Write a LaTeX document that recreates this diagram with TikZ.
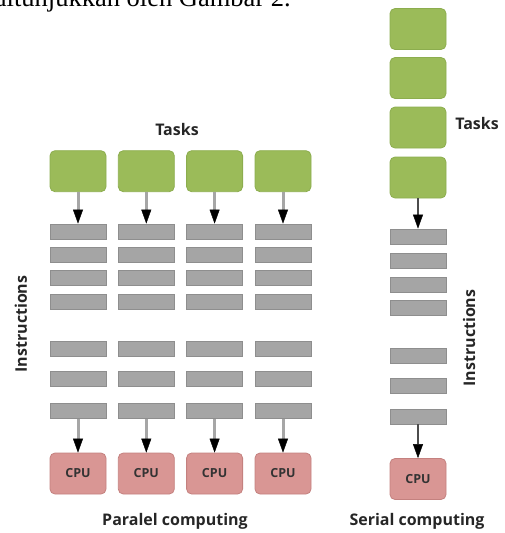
\documentclass[tikz,border=0pt]{standalone}
\usepackage{fontspec}
\setmainfont{Open Sans}
\newfontfamily\bodyserif{Liberation Serif}
\usetikzlibrary{arrows.meta}

\definecolor{taskfill}{HTML}{9BBB59}
\definecolor{taskedge}{HTML}{8CAD4E}
\definecolor{instrfill}{HTML}{A5A5A5}
\definecolor{instredge}{HTML}{8E8E8E}
\definecolor{cpufill}{HTML}{D99694}
\definecolor{cpuedge}{HTML}{C4817F}

\begin{document}
\begin{tikzpicture}[
    x=1pt, y=-1pt,          % pixel grid, y runs down
    >={Triangle[length=14pt, width=10pt, line width=0.4pt, black]},
    task/.style={draw=taskedge, fill=taskfill, rounded corners=5pt, line width=0.8pt,
                 minimum width=56pt, minimum height=41pt, inner sep=0pt},
    instr/.style={draw=instredge, fill=instrfill, line width=0.8pt,
                  minimum width=56pt, minimum height=15pt, inner sep=0pt},
    cpu/.style={draw=cpuedge, fill=cpufill, rounded corners=5pt, line width=0.8pt,
                minimum width=56pt, minimum height=41pt, inner sep=0pt,
                font=\bfseries\fontsize{12.5}{14}\selectfont, text=black!80},
    lbl/.style={font=\bfseries\fontsize{16}{19}\selectfont, text=black!85},
    flow/.style={->, draw=black!35, line width=3pt},
    sflow/.style={->, draw=black!70, line width=1.2pt}]
    \useasboundingbox (0,0) rectangle (505,533);
    \clip (0,0) rectangle (505,533);

    % Text of the page above
    \node[anchor=base east, inner sep=0pt, font=\bodyserif\fontsize{26.5}{32}\selectfont] (intro) at (291,6) {ditunjukkan oleh Gambar 2.};

    % Paralel computing
    \foreach \c/\x in {1/78, 2/146.3, 3/214.6, 4/283} {
        \node[task] (t\c) at (\x,171.2) {};
        \foreach \r/\y in {1/231.5, 2/255.2, 3/278.2, 4/301.5, 5/349.2, 6/379.2, 7/410.8}
            \node[instr] (i\c-\r) at (\x,\y) {};
        \node[cpu] (c\c) at (\x,473.5) {CPU};
        \draw[flow] (t\c) -- (i\c-1);
        \draw[flow] (i\c-7) -- (c\c);
    }
    \node[lbl] (ptasks) at (177,129) {Tasks};
    \node[lbl, rotate=90] (pinstr) at (21,324) {Instructions};
    \node[lbl] (pname) at (175,521) {Paralel computing};

    % Serial computing
    \foreach \r/\y in {1/29, 2/78, 3/127.5, 4/177.5}
        \node[task] (st\r) at (418,\y) {};
    \foreach \r/\y in {1/236.5, 2/260.5, 3/284.5, 4/307.5, 5/355.5, 6/385.5, 7/416.5}
        \node[instr] (si\r) at (418,\y) {};
    \node[cpu] (sc) at (418,479) {CPU};
    \draw[sflow] (st4) -- (si1);
    \draw[sflow] (si7) -- (sc);
    \node[lbl] (stasks) at (477,123) {Tasks};
    \node[lbl, rotate=90] (sinstr) at (469,338) {Instructions};
    \node[lbl] (sname) at (417,521) {Serial computing};
\end{tikzpicture}
\end{document}
